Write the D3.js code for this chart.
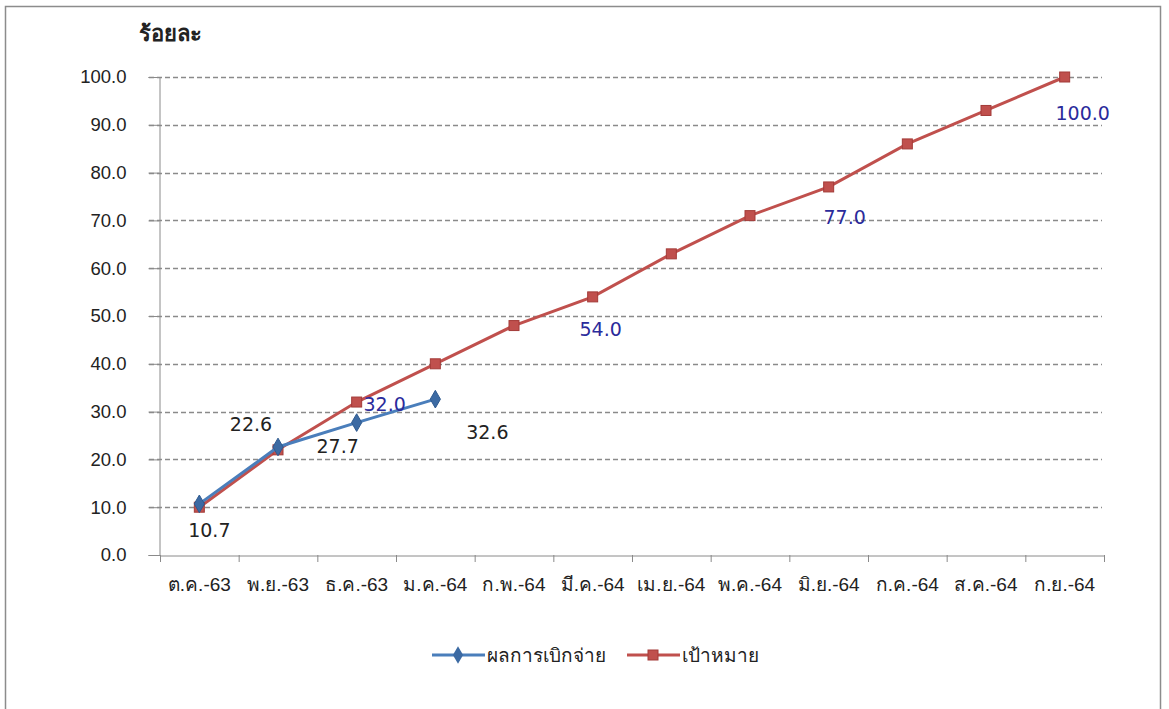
<!DOCTYPE html>
<html>
<head>
<meta charset="utf-8">
<script src="https://cdn.jsdelivr.net/npm/d3@7"></script>
<style>
  body { margin: 0; background: #fff; }
  svg { font-family: Tahoma, "DejaVu Sans", "Noto Sans", sans-serif; }
</style>
</head>
<body>
<div id="chart"></div>
<script>
// ข้อมูล
const months = ['ต.ค.-63', 'พ.ย.-63', 'ธ.ค.-63', 'ม.ค.-64', 'ก.พ.-64', 'มี.ค.-64',
  'เม.ย.-64', 'พ.ค.-64', 'มิ.ย.-64', 'ก.ค.-64', 'ส.ค.-64', 'ก.ย.-64'];
const actual = [10.7, 22.6, 27.7, 32.6];
const target = [10.0, 22.0, 32.0, 40.0, 48.0, 54.0, 63.0, 71.0, 77.0, 86.0, 93.0, 100.0];
const targetLabelled = ['ธ.ค.-63', 'มี.ค.-64', 'มิ.ย.-64', 'ก.ย.-64'];
const yTicks = [0, 10, 20, 30, 40, 50, 60, 70, 80, 90, 100];
const seriesNames = ['ผลการเบิกจ่าย', 'เป้าหมาย'];

const width = 1169, height = 709;
const mLeft = 160, mRight = 1104, mTop = 77, mBottom = 555;
const blue = '#4a7ebb', red = '#c0504d';

const svg = d3.select('#chart').append('svg')
  .attr('width', width)
  .attr('height', height);

// กรอบ
svg.append('rect')
  .attr('x', 5.5).attr('y', 6.5)
  .attr('width', 1155).attr('height', 720)
  .attr('fill', 'none')
  .attr('stroke', '#8c8c8c')
  .attr('stroke-width', 1.5);

const x = d3.scaleBand().domain(months).range([mLeft, mRight]);
const y = d3.scaleLinear().domain([0, 100]).range([mBottom, mTop]);
const cx = m => x(m) + x.bandwidth() / 2;

// เส้นกริด
svg.append('g')
  .selectAll('line')
  .data(yTicks.filter(d => d > 0))
  .enter()
  .append('line')
  .attr('x1', mLeft - 11).attr('x2', mRight - 2)
  .attr('y1', d => Math.round(y(d)) + 0.5)
  .attr('y2', d => Math.round(y(d)) + 0.5)
  .attr('stroke', '#8a8a8a')
  .attr('stroke-width', 1.3)
  .attr('stroke-dasharray', '5,3');

// แกน y
const yAxis = svg.append('g')
  .attr('transform', 'translate(' + (mLeft - 0.5) + ',0)')
  .call(d3.axisLeft(y).tickValues(yTicks).tickFormat(d3.format('.1f')).tickSize(11).tickPadding(22));
yAxis.select('.domain').attr('stroke', '#8a8a8a');
yAxis.selectAll('line').attr('stroke', '#8a8a8a');
yAxis.selectAll('text')
  .attr('font-size', 18.5)
  .attr('fill', '#222');

// แกน x
const xAxis = svg.append('g')
  .attr('transform', 'translate(0,' + (mBottom + 0.5) + ')')
  .call(d3.axisBottom(x).tickSize(0).tickPadding(22));
xAxis.select('.domain').attr('stroke', '#8a8a8a');
xAxis.selectAll('text')
  .attr('font-size', 19)
  .attr('fill', '#222');
svg.append('g')
  .selectAll('line')
  .data(months.concat(['end']))
  .enter()
  .append('line')
  .attr('x1', (d, i) => (i < months.length ? x(d) : mRight) + 0.5)
  .attr('x2', (d, i) => (i < months.length ? x(d) : mRight) + 0.5)
  .attr('y1', mBottom)
  .attr('y2', mBottom + 7)
  .attr('stroke', '#8a8a8a');

// ชื่อแกน
svg.append('text')
  .attr('x', 139).attr('y', 41)
  .attr('font-size', 22)
  .attr('font-weight', 'bold')
  .attr('fill', '#222')
  .text('ร้อยละ');

const line = d3.line()
  .x((d, i) => cx(months[i]))
  .y(d => y(d));

// เส้นเป้าหมาย
svg.append('path')
  .datum(target)
  .attr('fill', 'none')
  .attr('stroke', red)
  .attr('stroke-width', 3)
  .attr('d', line);
svg.selectAll('.sq')
  .data(target)
  .enter()
  .append('rect')
  .attr('class', 'sq')
  .attr('x', (d, i) => cx(months[i]) - 5)
  .attr('y', d => y(d) - 5)
  .attr('width', 10).attr('height', 10)
  .attr('fill', red)
  .attr('stroke', '#a33b38')
  .attr('stroke-width', 1);

// เส้นผลการเบิกจ่าย
svg.append('path')
  .datum(actual)
  .attr('fill', 'none')
  .attr('stroke', blue)
  .attr('stroke-width', 3)
  .attr('d', line);
const diamond = d3.symbol().type(d3.symbolDiamond).size(90);
svg.selectAll('.dm')
  .data(actual)
  .enter()
  .append('path')
  .attr('class', 'dm')
  .attr('d', diamond)
  .attr('transform', (d, i) => 'translate(' + cx(months[i]) + ',' + y(d) + ')')
  .attr('fill', '#3c6aa3')
  .attr('stroke', '#2f5a8f');

// ป้ายข้อมูล
const actualOffsets = [[10, 33], [-27, -16], [-19, 30], [52, 40]];
svg.selectAll('.lbA')
  .data(actual)
  .enter()
  .append('text')
  .attr('x', (d, i) => cx(months[i]) + actualOffsets[i][0])
  .attr('y', (d, i) => y(d) + actualOffsets[i][1])
  .attr('text-anchor', 'middle')
  .attr('font-size', 19)
  .attr('fill', '#222')
  .text(d => d.toFixed(1));

const targetOffsets = { 'ธ.ค.-63': [28, 9], 'มี.ค.-64': [8, 39], 'มิ.ย.-64': [16, 37], 'ก.ย.-64': [18, 43] };
svg.selectAll('.lbT')
  .data(target.map((v, i) => ({ m: months[i], v: v })).filter(d => targetLabelled.includes(d.m)))
  .enter()
  .append('text')
  .attr('x', d => cx(d.m) + targetOffsets[d.m][0])
  .attr('y', d => y(d.v) + targetOffsets[d.m][1])
  .attr('text-anchor', 'middle')
  .attr('font-size', 19)
  .attr('fill', '#2b2b9b')
  .text(d => d.v.toFixed(1));

// คำอธิบาย
const legend = svg.append('g').attr('transform', 'translate(432,655)');
const legendItems = [
  { name: seriesNames[0], color: blue, x: 0, shape: 'diamond' },
  { name: seriesNames[1], color: red, x: 195, shape: 'square' }
];
legendItems.forEach(it => {
  const g = legend.append('g').attr('transform', 'translate(' + it.x + ',0)');
  g.append('line')
    .attr('x1', 0).attr('x2', 53)
    .attr('stroke', it.color)
    .attr('stroke-width', 3);
  if (it.shape === 'diamond') {
    g.append('path')
      .attr('d', diamond)
      .attr('transform', 'translate(26,0)')
      .attr('fill', '#3c6aa3');
  } else {
    g.append('rect')
      .attr('x', 21).attr('y', -5)
      .attr('width', 10).attr('height', 10)
      .attr('fill', it.color)
      .attr('stroke', '#a33b38');
  }
  g.append('text')
    .attr('x', 55).attr('y', 7)
    .attr('font-size', 19)
    .attr('fill', '#222')
    .text(it.name);
});
</script>
</body>
</html>
